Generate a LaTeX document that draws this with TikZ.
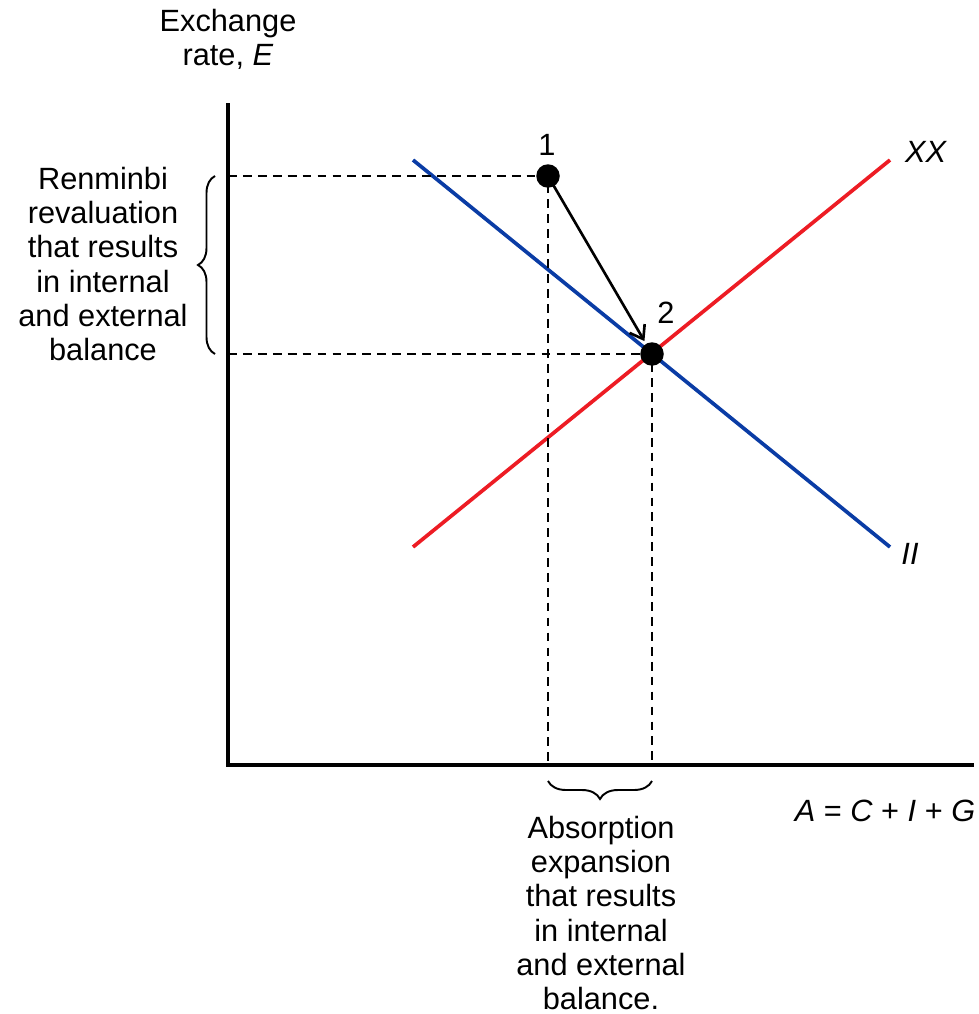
\documentclass[tikz,border=0pt]{standalone}
\usepackage{fontspec}
\setmainfont{Liberation Sans}
\usepackage{xcolor}
\definecolor{curveRed}{RGB}{237, 28, 36}
\definecolor{curveBlue}{RGB}{10, 60, 165}
\usepackage{tikz}
\usetikzlibrary{arrows.meta, positioning, decorations.pathreplacing}

\begin{document}
\begin{tikzpicture}[x=0.02cm, y=-0.02cm,
  axis/.style={line width=2.4pt, line cap=rect},
  curve/.style={line width=2.1pt},
  guide/.style={line width=1.3pt, dash pattern=on 5pt off 3.5pt},
  dot/.style={circle, fill=black, inner sep=0pt, minimum size=0.47cm},
  move/.style={-{Straight Barb[length=7pt, width=10pt, line width=1.5pt]}, line width=1.5pt, shorten >=0.3cm},
  bracket/.style={decorate, line width=1.1pt},
  txt/.style={font=\fontsize{17.5}{19.5}\selectfont, align=center, inner sep=0pt},
]
  \useasboundingbox (0,0) rectangle (979,1014);

  % axes
  \coordinate (origin) at (228,765);
  \coordinate (ytop) at (228,105);
  \coordinate (xend) at (972,765);
  \draw[axis] (ytop) -- (origin) -- (xend);

  % schedules
  \coordinate (iiTop) at (413,160);
  \coordinate (iiEnd) at (890,547);
  \coordinate (xxLow) at (413,547);
  \coordinate (xxEnd) at (890,160);
  \draw[curve, curveBlue] (iiTop) -- (iiEnd);
  \draw[curve, curveRed] (xxLow) -- (xxEnd);

  % points
  \node[dot] (p1) at (548,176) {};
  \node[dot] (p2) at (652,354) {};
  \node[txt] (l1) at (547,145) {1};
  \node[txt] (l2) at (666,313) {2};

  % guide lines
  \coordinate (e1) at (228,176);
  \coordinate (e2) at (228,354);
  \coordinate (a1) at (548,765);
  \coordinate (a2) at (652,765);
  \draw[guide] (e1) -- (p1.center) -- (a1);
  \draw[guide] (e2) -- (p2.center) -- (a2);

  \draw[move] (p1.center) -- (p2.center);

  % braces
  \draw[bracket, decoration={brace, amplitude=0.34cm}] (215,354) -- (215,176);
  \draw[bracket, decoration={brace, amplitude=0.36cm}] (652,781) -- (548,781);

  % labels
  \node[txt] (ylab) at (228,39) {Exchange\\rate, \textit{E}};
  \node[txt] (xlab) at (885,811) {\textit{A} = \textit{C} + \textit{I} + \textit{G}};
  \node[txt] (xxlab) at (926,152) {\textit{XX}};
  \node[txt] (iilab) at (910,554) {\textit{II}};
  \node[txt] (reval) at (103,264) {Renminbi\\revaluation\\that results\\in internal\\and external\\balance};
  \node[txt] (absorb) at (601,913) {Absorption\\expansion\\that results\\in internal\\and external\\balance.};
\end{tikzpicture}
\end{document}
